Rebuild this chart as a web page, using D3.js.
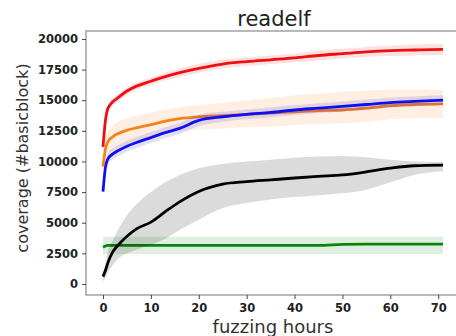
<!DOCTYPE html>
<html>
<head>
<meta charset="utf-8">
<script src="https://cdn.jsdelivr.net/npm/d3@7"></script>
<style>
  body { margin: 0; background: #fff; }
  svg { display: block; font-family: "DejaVu Sans", sans-serif; }
</style>
</head>
<body>
<svg id="chart" width="456" height="336"></svg>
<script>
// fuzzing hours sampled along every curve
const hours = [0, 0.5, 1, 2, 3, 5, 7, 10, 13, 16, 20, 25, 30, 35, 40, 45, 50, 55, 60, 65, 71];

const redMean = [11200, 13300, 14300, 14850, 15160, 15750, 16150, 16550, 16930, 17250, 17600, 17950, 18150, 18300, 18450, 18650, 18800, 18950, 19050, 19100, 19150];
const redLow  = [11000, 12900, 13950, 14550, 14850, 15450, 15850, 16250, 16600, 16900, 17250, 17600, 17800, 17950, 18100, 18250, 18400, 18550, 18600, 18650, 18700];
const redHigh = [11400, 13700, 14650, 15150, 15450, 16050, 16450, 16850, 17250, 17600, 17950, 18300, 18500, 18650, 18800, 19050, 19200, 19350, 19450, 19550, 19600];

const orangeMean = [9580, 11000, 11600, 12000, 12250, 12550, 12750, 13000, 13300, 13500, 13650, 13750, 13850, 13950, 14050, 14150, 14200, 14350, 14550, 14650, 14700];
const orangeLow  = [9300, 10200, 10600, 10900, 11100, 11400, 11650, 11950, 12250, 12450, 12600, 12700, 12800, 12850, 12950, 13050, 13100, 13250, 13450, 13550, 13550];
const orangeHigh = [9900, 11700, 12400, 12900, 13200, 13500, 13750, 14000, 14250, 14450, 14600, 14800, 15000, 15200, 15400, 15550, 15700, 15800, 15850, 15850, 15850];

const blueMean = [7540, 9500, 10200, 10600, 10850, 11250, 11550, 11950, 12350, 12700, 13350, 13650, 13850, 14000, 14200, 14350, 14500, 14650, 14800, 14900, 15000];
const blueLow  = [7300, 9100, 9750, 10150, 10400, 10800, 11100, 11500, 11900, 12250, 12900, 13250, 13450, 13600, 13800, 13950, 14100, 14250, 14400, 14500, 14600];
const blueHigh = [7800, 9900, 10650, 11050, 11300, 11700, 12000, 12400, 12800, 13150, 13800, 14050, 14250, 14400, 14600, 14750, 14900, 15050, 15200, 15300, 15400];

const blackMean = [600, 1100, 1700, 2600, 3100, 3900, 4500, 5050, 5900, 6700, 7550, 8150, 8350, 8500, 8650, 8780, 8900, 9150, 9450, 9650, 9700];
const blackLow  = [200, 500, 900, 1500, 2000, 2500, 2800, 3200, 3700, 4400, 5250, 6200, 6600, 6900, 7100, 7250, 7400, 7700, 8300, 8900, 9200];
const blackHigh = [900, 1700, 2600, 3500, 4300, 5600, 6500, 7500, 8300, 8900, 9450, 9800, 10000, 10150, 10300, 10400, 10450, 10350, 10150, 10000, 9950];

const greenMean = [3000, 3100, 3150, 3150, 3150, 3150, 3150, 3150, 3150, 3150, 3150, 3150, 3150, 3150, 3150, 3150, 3230, 3250, 3250, 3250, 3250];
const greenLow  = [2450, 2450, 2450, 2450, 2450, 2450, 2450, 2450, 2450, 2450, 2450, 2450, 2450, 2450, 2450, 2450, 2450, 2450, 2450, 2450, 2450];
const greenHigh = [3850, 3850, 3850, 3850, 3850, 3850, 3850, 3850, 3850, 3850, 3850, 3850, 3850, 3850, 3850, 3850, 3850, 3850, 3850, 3850, 3850];

const xTicks = [0, 10, 20, 30, 40, 50, 60, 70];
const yTicks = [0, 2500, 5000, 7500, 10000, 12500, 15000, 17500, 20000];

const title = 'readelf';
const xTitle = 'fuzzing hours';
const yTitle = 'coverage (#basicblock)';

// drawing order: bottom to top
const series = [
  {name: 'green',  color: '#0a850a', mean: greenMean,  low: greenLow,  high: greenHigh},
  {name: 'black',  color: '#000000', mean: blackMean,  low: blackLow,  high: blackHigh},
  {name: 'orange', color: '#f5821e', mean: orangeMean, low: orangeLow, high: orangeHigh},
  {name: 'blue',   color: '#1010ee', mean: blueMean,   low: blueLow,   high: blueHigh},
  {name: 'red',    color: '#ee1010', mean: redMean,    low: redLow,    high: redHigh}
];

const svg = d3.select('#chart');
const plotLeft = 86, plotTop = 31, plotRight = 460, plotBottom = 295;

const x = d3.scaleLinear().domain([-3.55, 74.55]).range([plotLeft, plotRight]);
const y = d3.scaleLinear().domain([-900, 20650]).range([plotBottom, plotTop]);

svg.append('defs').append('clipPath').attr('id', 'plot-clip')
  .append('rect')
  .attr('x', plotLeft).attr('y', plotTop)
  .attr('width', plotRight - plotLeft).attr('height', plotBottom - plotTop);

const plot = svg.append('g').attr('clip-path', 'url(#plot-clip)');

const area = d3.area()
  .x(d => x(d.h))
  .y0(d => y(d.lo))
  .y1(d => y(d.hi))
  .curve(d3.curveMonotoneX);

const line = d3.line()
  .x(d => x(d.h))
  .y(d => y(d.v))
  .curve(d3.curveMonotoneX);

series.forEach(s => {
  const rows = hours.map((h, i) => ({h: h, v: s.mean[i], lo: s.low[i], hi: s.high[i]}));
  plot.append('path')
    .attr('d', area(rows))
    .attr('fill', s.color)
    .attr('fill-opacity', s.name === 'black' ? 0.14 : 0.13);
  plot.append('path')
    .attr('d', line(rows))
    .attr('fill', 'none')
    .attr('stroke', s.color)
    .attr('stroke-width', 2.8)
    .attr('stroke-linejoin', 'round');
});

// frame
svg.append('rect')
  .attr('x', plotLeft).attr('y', plotTop)
  .attr('width', plotRight - plotLeft).attr('height', plotBottom - plotTop)
  .attr('fill', 'none')
  .attr('stroke', '#8a8a8a')
  .attr('stroke-width', 1.2);

const xAxis = svg.append('g')
  .attr('transform', 'translate(0,' + plotBottom + ')')
  .call(d3.axisBottom(x).tickValues(xTicks).tickSize(4).tickPadding(5).tickFormat(d3.format('d')));

const yAxis = svg.append('g')
  .attr('transform', 'translate(' + plotLeft + ',0)')
  .call(d3.axisLeft(y).tickValues(yTicks).tickSize(4).tickPadding(4).tickFormat(d3.format('d')));

[xAxis, yAxis].forEach(a => {
  a.select('.domain').remove();
  a.selectAll('.tick line').attr('stroke', '#444');
  a.selectAll('.tick text')
    .attr('fill', '#222')
    .style('font-family', '"DejaVu Sans", sans-serif')
    .style('font-size', '11.5px')
    .style('font-weight', 'bold');
});

svg.append('text')
  .attr('x', 274).attr('y', 26)
  .attr('text-anchor', 'middle')
  .style('font-size', '21px')
  .attr('fill', '#222')
  .text(title);

svg.append('text')
  .attr('x', 273).attr('y', 333)
  .attr('text-anchor', 'middle')
  .style('font-size', '18px')
  .attr('fill', '#333')
  .text(xTitle);

svg.append('text')
  .attr('transform', 'translate(28,158) rotate(-90)')
  .attr('text-anchor', 'middle')
  .style('font-size', '16px')
  .attr('fill', '#333')
  .text(yTitle);
</script>
</body>
</html>
